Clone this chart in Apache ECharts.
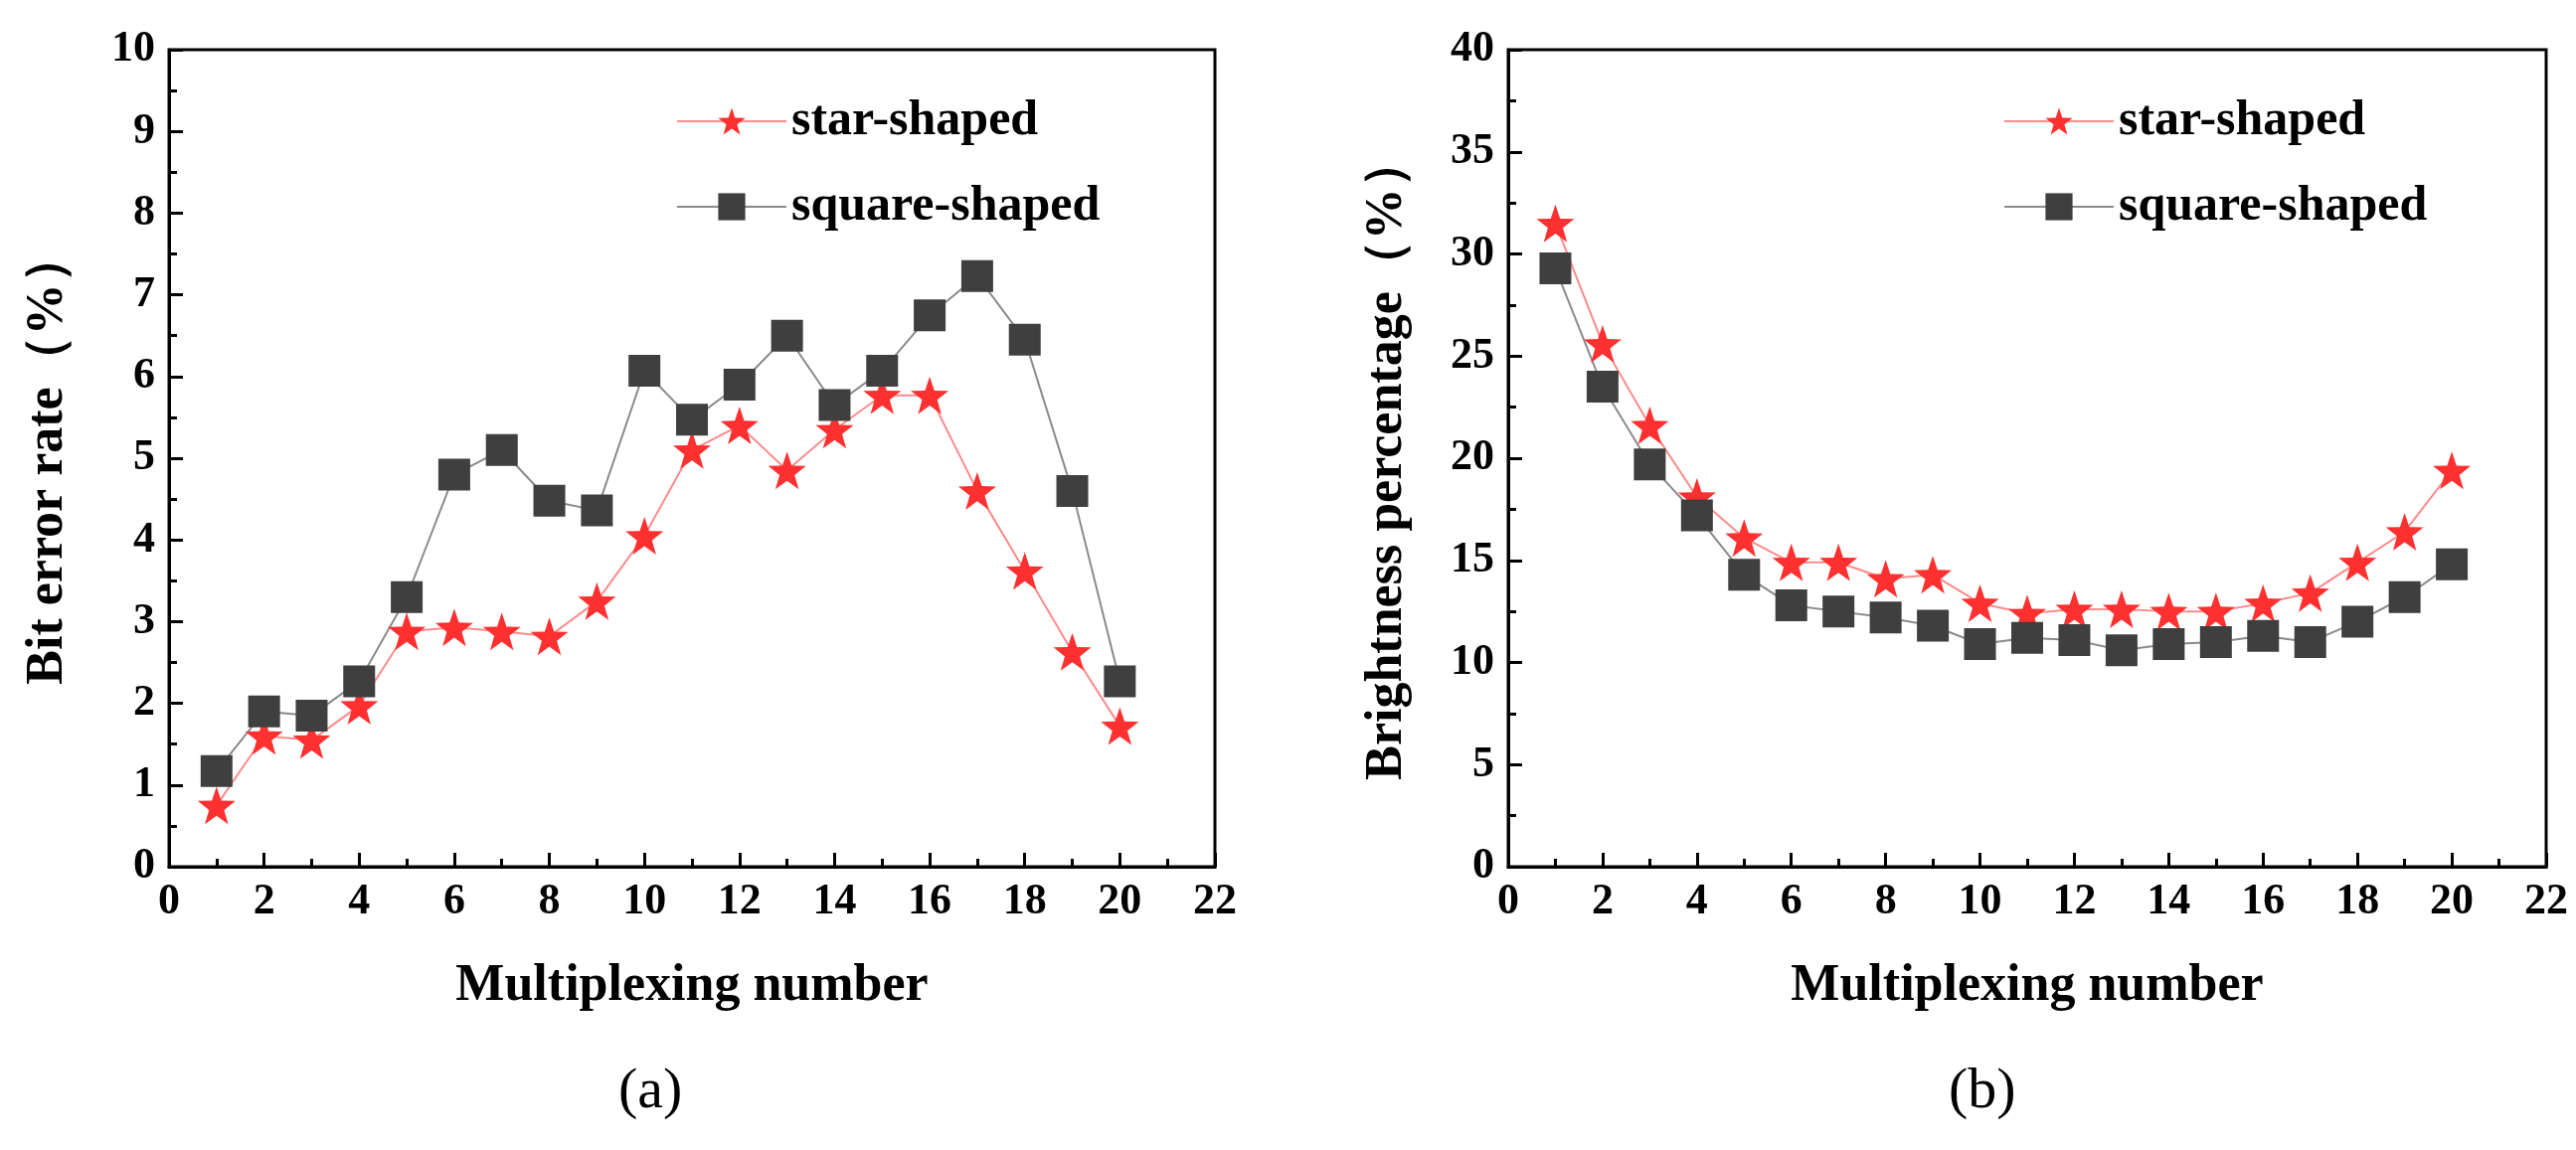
<!DOCTYPE html>
<html>
<head>
<meta charset="utf-8" />
<script src="https://cdn.jsdelivr.net/npm/echarts@6/dist/echarts.min.js"></script>
</head>
<body style="margin:0;background:#fff;">
<div id="c" style="width:2591px;height:1157px;"></div>
<script>
var xs = [1,2,3,4,5,6,7,8,9,10,11,12,13,14,15,16,17,18,19,20];
var berStar = [0.75,1.6,1.55,1.97,2.88,2.93,2.88,2.82,3.25,4.05,5.1,5.4,4.85,5.35,5.77,5.77,4.6,3.62,2.63,1.72];
var berSquare = [1.17,1.9,1.85,2.27,3.3,4.8,5.1,4.48,4.36,6.07,5.47,5.9,6.5,5.65,6.07,6.75,7.23,6.45,4.6,2.27];
var brStar = [31.5,25.6,21.6,18.1,16.1,14.9,14.9,14.1,14.3,12.9,12.4,12.6,12.6,12.5,12.5,12.9,13.4,14.9,16.4,19.4];
var brSquare = [29.3,23.5,19.7,17.2,14.3,12.8,12.5,12.2,11.8,10.9,11.2,11.1,10.6,10.9,11.0,11.3,11.0,12.0,13.2,14.8];

function pairs(v){ return xs.map(function(x,i){ return [x, v[i]]; }); }
var font = '"Liberation Serif", "DejaVu Serif", serif';
var labelStyle = {fontFamily:font, fontWeight:'bold', fontSize:44, color:'#000', margin:14};
var nameStyle = {fontFamily:font, fontWeight:'bold', fontSize:52, color:'#000'};
function xAx(gi){
  return {gridIndex:gi, type:'value', min:0, max:22, interval:2,
    name:'Multiplexing number', nameLocation:'center', nameGap:95,
    nameTextStyle:nameStyle,
    axisLine:{lineStyle:{color:'#000', width:3}},
    axisTick:{inside:true, length:14, lineStyle:{width:3}},
    minorTick:{show:true, splitNumber:2, length:8, lineStyle:{color:'#000', width:3}},
    axisLabel:labelStyle, splitLine:{show:false}};
}
function yAx(gi, max, iv, name){
  return {gridIndex:gi, type:'value', min:0, max:max, interval:iv,
    name:name, nameLocation:'center', nameGap:95,
    nameTextStyle:nameStyle,
    axisLine:{lineStyle:{color:'#000', width:3}},
    axisTick:{inside:true, length:14, lineStyle:{width:3}},
    minorTick:{show:true, splitNumber:2, length:8, lineStyle:{color:'#000', width:3}},
    axisLabel:labelStyle, splitLine:{show:false}};
}
var starPath = 'path://M0,-10L2.35,-3.24L9.51,-3.09L3.8,1.24L5.88,8.09L0,4L-5.88,8.09L-3.8,1.24L-9.51,-3.09L-2.35,-3.24Z';
function ser(name, gi, data, sym){
  var star = sym === 'star';
  return {name:name, type:'line', xAxisIndex:gi, yAxisIndex:gi, data:pairs(data),
    symbol: star ? starPath : 'rect',
    symbolSize: star ? 38 : 32,
    itemStyle:{color: star ? '#ff3030' : '#3f3f3f'},
    lineStyle:{color: star ? '#ff8a8a' : '#8a8a8a', width:2}};
}
var legendText = {fontFamily:font, fontWeight:'bold', fontSize:50, color:'#000'};
var option = {
  animation:false,
  textStyle:{fontFamily:font},
  grid:[{left:170, top:50, width:1052, height:822, show:true, borderColor:'#000', borderWidth:3},
        {left:1517, top:50, width:1044, height:822, show:true, borderColor:'#000', borderWidth:3}],
  xAxis:[xAx(0), xAx(1)],
  yAxis:[yAx(0,10,1,'Bit error rate（%）'), yAx(1,40,5,'Brightness percentage（%）')],
  legend:[
    {data:['star-shaped','square-shaped'], left:675, top:92, orient:'vertical', itemGap:36, itemWidth:110, itemHeight:34, textStyle:legendText},
    {data:['star-shaped ','square-shaped '], left:2010, top:92, orient:'vertical', itemGap:36, itemWidth:110, itemHeight:34, textStyle:legendText}
  ],
  series:[
    ser('star-shaped',0,berStar,'star'), ser('square-shaped',0,berSquare,'rect'),
    ser('star-shaped ',1,brStar,'star'), ser('square-shaped ',1,brSquare,'rect')
  ],
  graphic:[
    {type:'text', left:622, top:1070, style:{text:'(a)', fontFamily:font, fontSize:58, fill:'#000'}},
    {type:'text', left:1960, top:1070, style:{text:'(b)', fontFamily:font, fontSize:58, fill:'#000'}}
  ]
};
echarts.init(document.getElementById('c')).setOption(option);
</script>
</body>
</html>
